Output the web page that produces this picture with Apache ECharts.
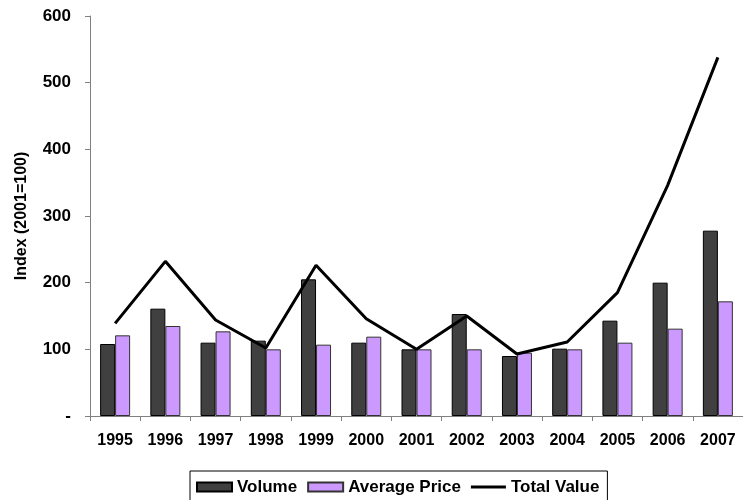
<!DOCTYPE html>
<html>
<head>
<meta charset="utf-8">
<script src="https://cdn.jsdelivr.net/npm/echarts@6/dist/echarts.min.js"></script>
<style>
  html, body { margin: 0; padding: 0; background: #fff; }
  #chart { width: 743px; height: 500px; }
</style>
</head>
<body>
<div id="chart"></div>
<script>
const years = ['1995', '1996', '1997', '1998', '1999', '2000', '2001', '2002', '2003', '2004', '2005', '2006', '2007']
const volume = [108, 161, 110, 113, 205, 110, 100, 153, 90, 101, 143, 200, 278]
const averagePrice = [121, 135, 127, 100, 107, 119, 100, 100, 95, 100, 110, 131, 172]
const totalValue = [139, 232, 144, 102, 226, 146, 100, 150, 93, 111, 185, 346, 538]

const font = '"Liberation Sans", Arial, sans-serif'

const chart = echarts.init(document.getElementById('chart'))

const option = {
  animation: false,
  backgroundColor: '#fff',
  textStyle: { fontFamily: font },
  grid: {
    left: 90,
    top: 16,
    width: 660,
    height: 400
  },
  legend: {
    left: 190,
    top: 471,
    padding: [6, 8, 6, 6],
    borderColor: '#000',
    borderWidth: 1,
    itemWidth: 35,
    itemHeight: 9,
    itemGap: 10,
    symbolKeepAspect: true,
    textStyle: {
      fontFamily: font,
      fontWeight: 'bold',
      fontSize: 17,
      color: '#000',
      lineHeight: 20
    },
    data: [
      { name: 'Volume', icon: 'rect' },
      { name: 'Average Price', icon: 'rect' },
      { name: 'Total Value', icon: 'path://M0,0 L35,0 L35,3 L0,3 Z', itemStyle: { color: '#000', borderWidth: 0 } }
    ]
  },
  xAxis: {
    type: 'category',
    data: years,
    axisLine: { lineStyle: { color: '#808080', width: 1 } },
    axisTick: { show: true, length: 5, lineStyle: { color: '#808080' } },
    axisLabel: {
      color: '#000',
      fontWeight: 'bold',
      fontSize: 16,
      fontFamily: font,
      margin: 17,
      interval: 0
    }
  },
  yAxis: {
    type: 'value',
    min: 0,
    max: 600,
    interval: 100,
    name: 'Index (2001=100)',
    nameLocation: 'middle',
    nameGap: 60,
    nameRotate: 90,
    nameTextStyle: {
      color: '#000',
      fontWeight: 'bold',
      fontSize: 16,
      fontFamily: font
    },
    axisLine: { show: true, lineStyle: { color: '#808080', width: 1 } },
    axisTick: { show: true, length: 5, lineStyle: { color: '#808080' } },
    splitLine: { show: false },
    axisLabel: {
      color: '#000',
      fontWeight: 'bold',
      fontSize: 17,
      fontFamily: font,
      margin: 19,
      formatter: v => (v === 0 ? '-' : String(v))
    }
  },
  series: [
    {
      name: 'Volume',
      type: 'bar',
      data: volume,
      barWidth: 15,
      barGap: '0%',
      itemStyle: { color: '#404040', borderColor: '#000', borderWidth: 1 }
    },
    {
      name: 'Average Price',
      type: 'bar',
      data: averagePrice,
      barWidth: 15,
      barGap: '0%',
      itemStyle: { color: '#cc99ff', borderColor: '#333', borderWidth: 1 }
    },
    {
      name: 'Total Value',
      type: 'line',
      data: totalValue,
      symbol: 'none',
      lineStyle: { color: '#000', width: 3 },
      itemStyle: { color: '#000' }
    }
  ]
}

chart.setOption(option)
</script>
</body>
</html>
